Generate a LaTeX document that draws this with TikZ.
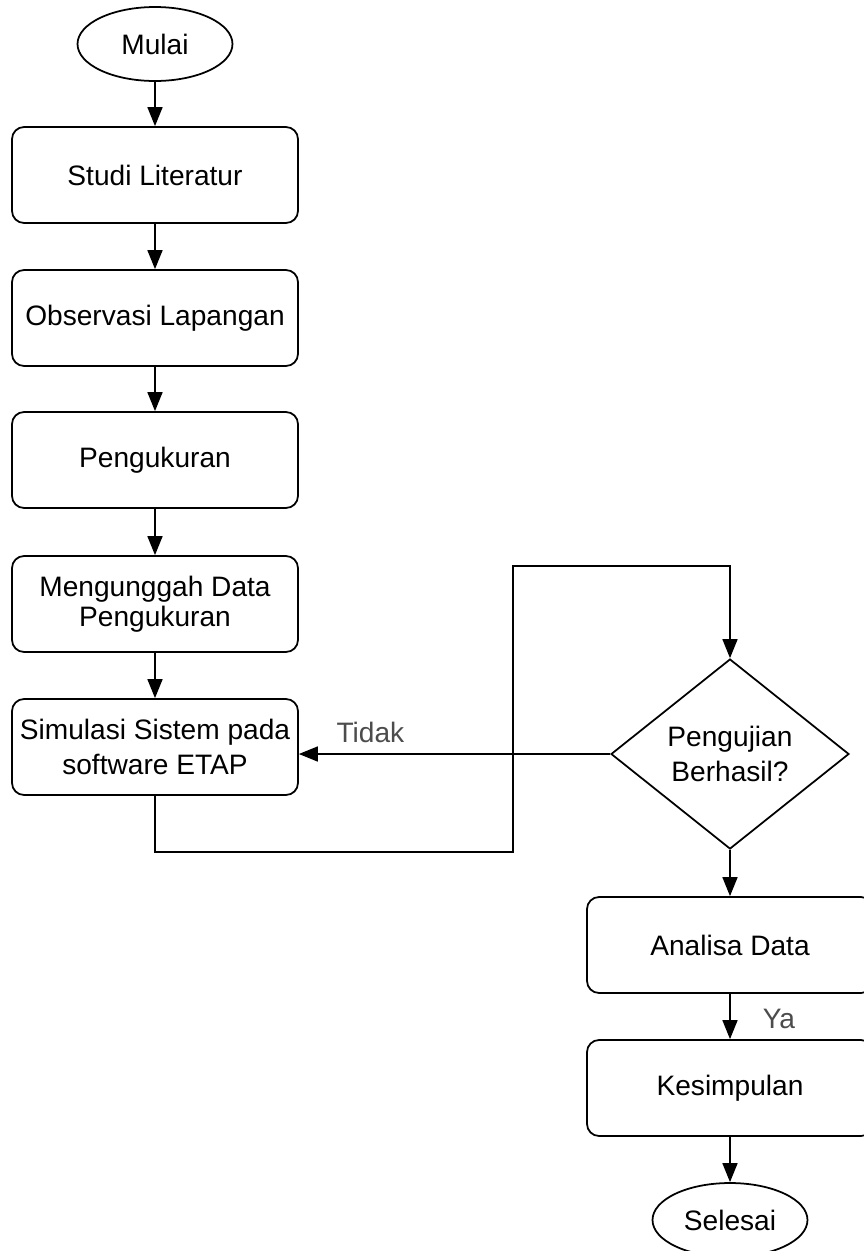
\documentclass[tikz,border=0pt]{standalone}
\usepackage{fontspec}
\setmainfont{Liberation Sans}
\usetikzlibrary{shapes.geometric,arrows.meta}
\begin{document}
\begin{tikzpicture}[x=0.02cm,y=-0.02cm]
\tikzstyle{terminal} = [ellipse, draw, line width=1pt, minimum width=3.1cm, minimum height=1.48cm, inner sep=0, font=\fontsize{16}{17}\selectfont]
\tikzstyle{process} = [rectangle, rounded corners=0.24cm, draw, line width=1pt, minimum width=5.72cm, minimum height=1.92cm, inner sep=0, align=center, font=\fontsize{16}{17}\selectfont]
\tikzstyle{decision} = [diamond, draw, line width=1pt, minimum width=4.76cm, minimum height=3.8cm, inner sep=0, align=center, font=\fontsize{16}{17}\selectfont]
\tikzstyle{arrow} = [-{Triangle[length=0.38cm,width=0.3cm]}, line width=0.9pt]
\tikzstyle{tag} = [inner sep=0, text=black!70, font=\fontsize{16}{17}\selectfont]
    \useasboundingbox (0,0) rectangle (864,1251);

\node [terminal] (v1) at (155,44) {Mulai};
\node [process] (v2) at (155,175) {Studi Literatur};
\node [process] (v3) at (155,318) {Observasi Lapangan};
\node [process] (v4) at (155,460) {Pengukuran};
\node [process] (v5) at (155,604) {Mengunggah Data\\Pengukuran};
\node [process] (v6) at (155,747) {Simulasi Sistem pada\\[3pt]software ETAP};
\node [decision] (v7) at (730,754) {Pengujian\\[3pt]Berhasil?};
\node [process] (v8) at (730,945) {Analisa Data};
\node [process] (v9) at (730,1088) {Kesimpulan};
\node [terminal] (v10) at (730,1220) {Selesai};
\coordinate (c1) at (513,852);
\coordinate (c2) at (513,566);

\draw [arrow] (v1) -- (v2);
\draw [arrow] (v2) -- (v3);
\draw [arrow] (v3) -- (v4);
\draw [arrow] (v4) -- (v5);
\draw [arrow] (v5) -- (v6);
\draw [arrow] (v6.south) |- (c1) -- (c2) -| (v7.north);
\draw [arrow] (v7.west) -- (v7.west -| v6.east) node [tag, above=6pt, pos=0.77] {Tidak};
\draw [arrow] (v7) -- (v8);
\draw [arrow] (v8) -- (v9) node [tag, right=0.64cm, pos=0.55] {Ya};
\draw [arrow] (v9) -- (v10);
\end{tikzpicture}
\end{document}
